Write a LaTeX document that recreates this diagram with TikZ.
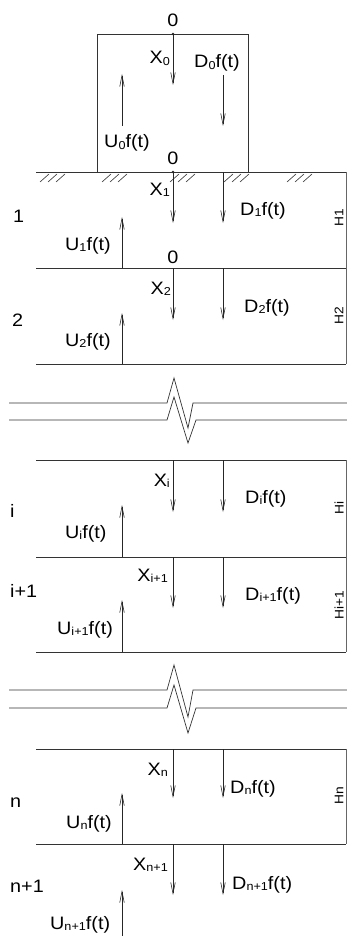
\documentclass[tikz,border=0pt]{standalone}
\usepackage{fontspec}
\setmainfont{Liberation Sans}[FakeStretch=1.1]
\usetikzlibrary{arrows.meta}
\newcommand\sbs[1]{\raisebox{-0.2ex}{\fontsize{11.5}{11.5}\selectfont #1}}
\tikzset{
  ln/.style={draw=black!80, line width=0.7pt},
  arr/.style={draw=black!85, line width=0.6pt, -{Straight Barb[length=11pt,width=4.5pt]}},
  lbl/.style={inner sep=0pt, font=\fontsize{18}{18}\selectfont},
  hl/.style={inner sep=0pt, rotate=90, font=\fontsize{12.5}{12.5}\selectfont},
  hatch/.style={draw=black!80, line width=0.6pt}
}
\begin{document}
\begin{tikzpicture}[x=1pt,y=-1pt]
\useasboundingbox (0,0) rectangle (347,936);
% box
\draw[ln] (97,172) -- (97,34) -- (248,34) -- (248,172);
% layer boundaries
\foreach \yy in {172,268,364,460,557,652,749,844}{\draw[ln] (36,\yy) -- (346,\yy);}
\draw[draw=black!60, line width=1pt] (346,172) -- (346,364);
\draw[draw=black!60, line width=1pt] (346,460) -- (346,652);
\draw[draw=black!60, line width=1pt] (346,749) -- (346,844);
% hatches
\foreach \xx in {40,102,170,224,287}{
  \foreach \k in {0,8,16}{\draw[hatch] (\xx+\k,182) -- (\xx+\k+9,174);}
}
% breaks
\draw[ln] (9,403) -- (167,403) -- (174,378) -- (188,428) -- (193,403) -- (347,403);
\draw[ln] (9,420) -- (167,420) -- (174,397) -- (188,443) -- (196,420) -- (347,420);
\draw[ln] (9,690) -- (167,690) -- (174,665) -- (188,717) -- (193,690) -- (347,690);
\draw[ln] (9,708) -- (167,708) -- (174,685) -- (188,733) -- (196,708) -- (347,708);
% dots
\fill[black!85] (173,34) circle (1.4);
\fill[black!85] (173,172) circle (1.4);
% X arrows
\foreach \a/\b in {34/85,172/223,268/320,460/512,557/608,749/798,844/895}{\draw[arr] (173,\a) -- (173,\b);}
% D arrows
\foreach \a/\b in {75/126,172/223,268/320,460/512,557/608,749/798,844/895}{\draw[arr] (223,\a) -- (223,\b);}
% U arrows
\foreach \a/\b in {126/74,268/217,364/313,557/505,652/600,844/793,936/890}{\draw[arr] (122,\a) -- (122,\b);}
% labels
\node[lbl, anchor=base] (z0) at (173,27) {0};
\node[lbl, anchor=base east] (x0) at (170,64) {X\sbs{0}};
\node[lbl, anchor=base west] (d0) at (194,68) {D\sbs{0}f(t)};
\node[lbl, anchor=base west] (u0) at (104,148) {U\sbs{0}f(t)};
\node[lbl, anchor=base] (z1) at (173,165) {0};
\node[lbl, anchor=base east] (x1) at (170,195) {X\sbs{1}};
\node[lbl, anchor=base west] (d1) at (240,215) {D\sbs{1}f(t)};
\node[lbl, anchor=base west] (n1) at (13,222) {1};
\node[lbl, anchor=base west] (u1) at (65,250) {U\sbs{1}f(t)};
\node[lbl, anchor=base] (z2) at (173,263) {0};
\node[lbl, anchor=base east] (x2) at (171,294) {X\sbs{2}};
\node[lbl, anchor=base west] (d2) at (244,312) {D\sbs{2}f(t)};
\node[lbl, anchor=base west] (n2) at (12,326) {2};
\node[lbl, anchor=base west] (u2) at (65,346) {U\sbs{2}f(t)};
\node[lbl, anchor=base east] (xi) at (170,486) {X\sbs{i}};
\node[lbl, anchor=base west] (di) at (245,503) {D\sbs{i}f(t)};
\node[lbl, anchor=base west] (ni) at (10,517) {i};
\node[lbl, anchor=base west] (ui) at (65,538) {U\sbs{i}f(t)};
\node[lbl, anchor=base east] (xi1) at (168,581) {X\sbs{i+1}};
\node[lbl, anchor=base west] (di1) at (245,600) {D\sbs{i+1}f(t)};
\node[lbl, anchor=base west] (ni1) at (10,597) {i+1};
\node[lbl, anchor=base west] (ui1) at (57,634) {U\sbs{i+1}f(t)};
\node[lbl, anchor=base east] (xn) at (168,775) {X\sbs{n}};
\node[lbl, anchor=base west] (dn) at (230,793) {D\sbs{n}f(t)};
\node[lbl, anchor=base west] (nn) at (10,807) {n};
\node[lbl, anchor=base west] (un) at (66,828) {U\sbs{n}f(t)};
\node[lbl, anchor=base east] (xn1) at (168,870) {X\sbs{n+1}};
\node[lbl, anchor=base west] (dn1) at (232,889) {D\sbs{n+1}f(t)};
\node[lbl, anchor=base west] (nn1) at (10,892) {n+1};
\node[lbl, anchor=base west] (un1) at (50,929) {U\sbs{n+1}f(t)};
% H labels
\node[hl] (h1) at (339,218) {H1};
\node[hl] (h2) at (339,316) {H2};
\node[hl] (hi) at (339,508) {Hi};
\node[hl] (hi1) at (339,605) {Hi+1};
\node[hl] (hn) at (339,796) {Hn};
\end{tikzpicture}
\end{document}
